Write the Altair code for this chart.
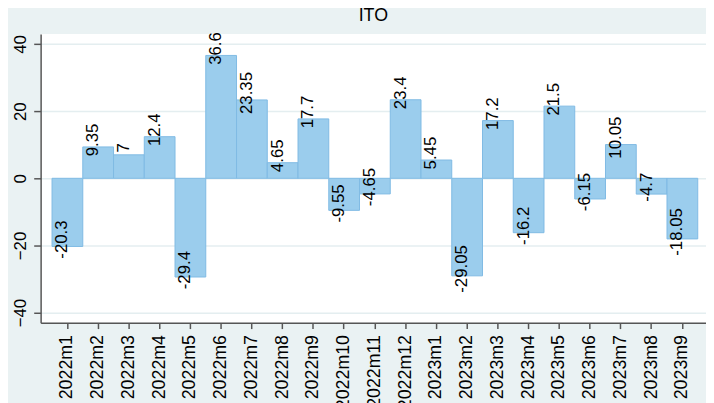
import altair as alt
import pandas as pd

months = ["2022m1", "2022m2", "2022m3", "2022m4", "2022m5", "2022m6", "2022m7",
          "2022m8", "2022m9", "2022m10", "2022m11", "2022m12", "2023m1", "2023m2",
          "2023m3", "2023m4", "2023m5", "2023m6", "2023m7", "2023m8", "2023m9"]
values = [-20.3, 9.35, 7, 12.4, -29.4, 36.6, 23.35, 4.65, 17.7, -9.55, -4.65,
          23.4, 5.45, -29.05, 17.2, -16.2, 21.5, -6.15, 10.05, -4.7, -18.05]
y_ticks = [-40, -20, 0, 20, 40]

df = pd.DataFrame({"month": months, "value": values,
                   "label": [f"{v:g}" for v in values]})

FONT = "Liberation Sans"
BG = "#EAF2F3"

x = alt.X("month:N", sort=months, title=None,
          scale=alt.Scale(paddingInner=0, paddingOuter=0.32, align=0.58),
          axis=alt.Axis(labelAngle=270, labelAlign="right", labelBaseline="middle",
                        labelFontSize=18, labelFont=FONT, labelColor="black",
                        tickSize=6, tickColor="#555555", tickWidth=1.5,
                        labelPadding=6, domainColor="#555555", domainWidth=1.5,
                        grid=False, labelOverlap=False))
y = alt.Y("value:Q", title=None,
          scale=alt.Scale(domain=[-43, 43], nice=False, zero=False),
          axis=alt.Axis(values=y_ticks, labelAngle=270, labelAlign="center",
                        labelBaseline="alphabetic", labelFontSize=17, labelFont=FONT,
                        labelColor="black", tickSize=7, tickColor="#555555",
                        tickWidth=1.5, labelPadding=8, domainColor="#555555",
                        domainWidth=1.5, grid=True, gridColor="#E4EEF0",
                        gridWidth=1.5))

bars = alt.Chart(df).mark_bar(color="#9BCDED", stroke="#80BAE4",
                              strokeWidth=1).encode(x=x, y=y, y2=alt.datum(0))

labels = alt.Chart(df).mark_text(angle=270, align="center", baseline="alphabetic",
                                 dx=7, fontSize=17, font=FONT,
                                 color="black").encode(x=x, y=y, text="label:N")

chart = (bars + labels).properties(
    width=673, height=292,
    title=alt.TitleParams("ITO", fontSize=18, font=FONT, fontWeight="normal",
                          color="black", anchor="middle", offset=7),
    padding={"left": 33, "top": 24, "right": 0, "bottom": 79},
    autosize=alt.AutoSizeParams(type="none"),
    background=BG,
).configure_view(fill="white", stroke=None)

chart.save("out.html", embed_options={"renderer": "svg", "actions": False})
